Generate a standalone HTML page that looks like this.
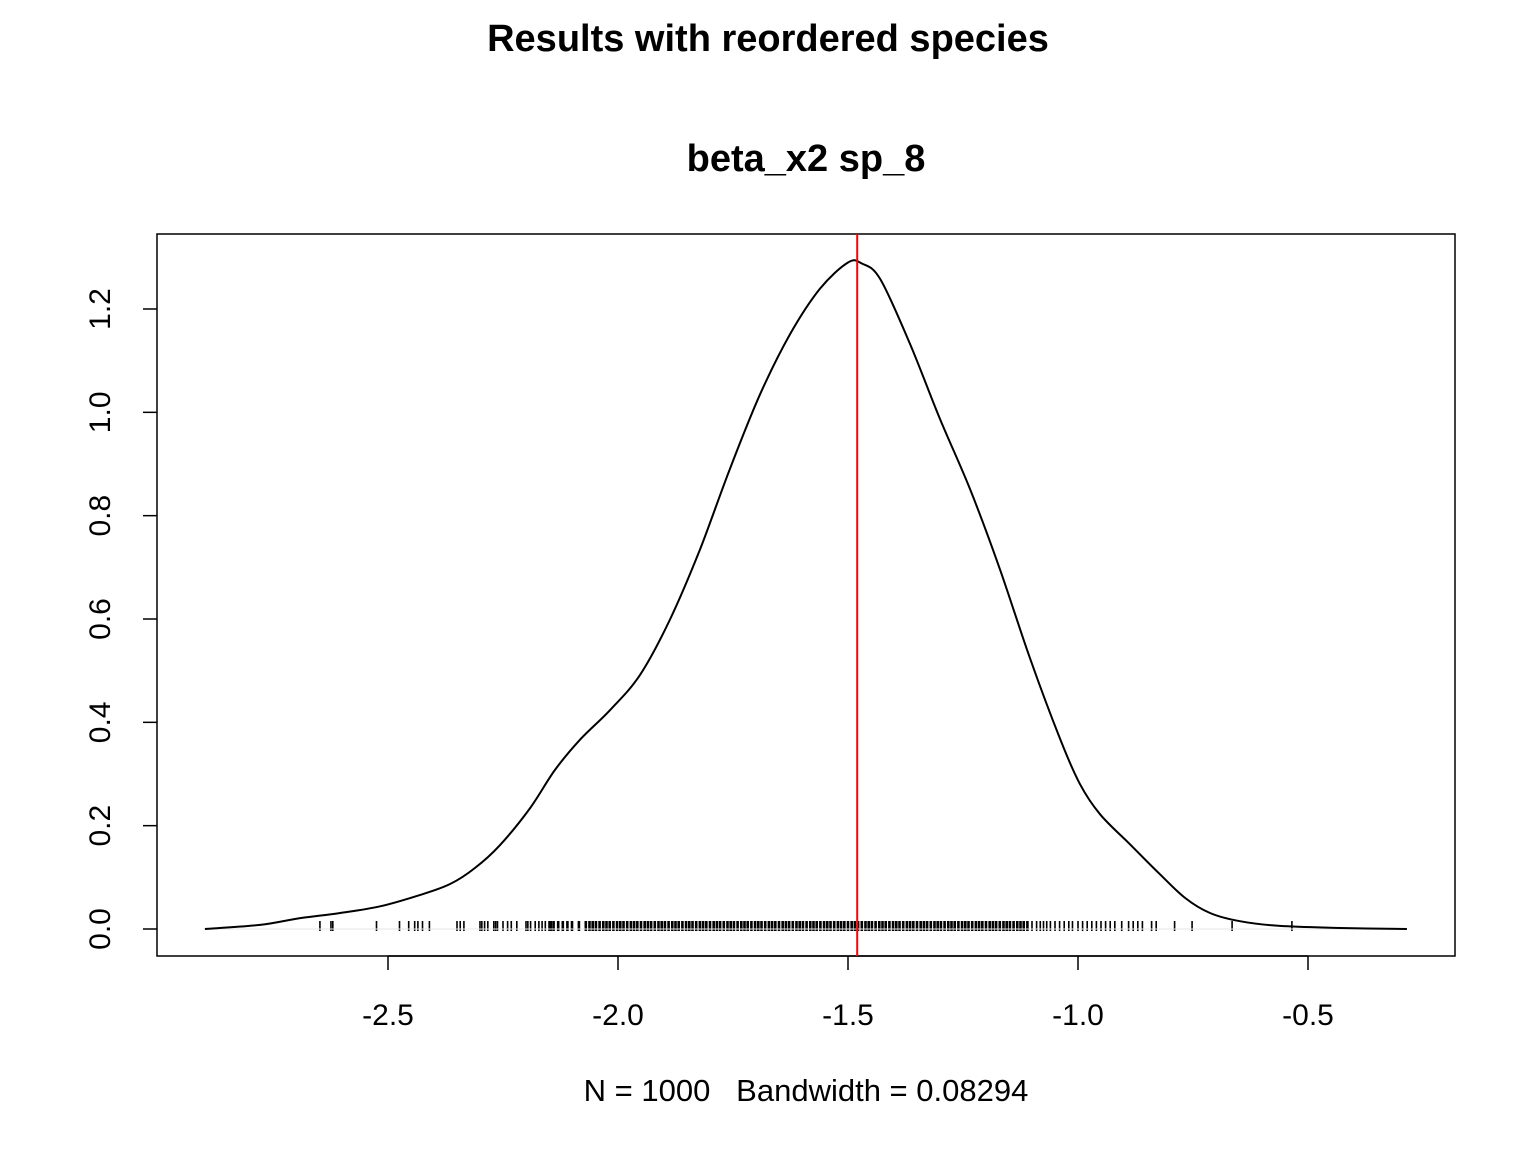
<!DOCTYPE html>
<html><head><meta charset="utf-8"><style>
body{margin:0;background:#fff}
svg text{font-family:"Liberation Sans",Arial,sans-serif}
</style></head><body>
<svg id="chart" width="1536" height="1152" xmlns="http://www.w3.org/2000/svg">
<rect width="1536" height="1152" fill="#fff"/>
<text x="768" y="51" text-anchor="middle" font-size="38" font-weight="bold">Results with reordered species</text>
<text x="806" y="171" text-anchor="middle" font-size="38" font-weight="bold">beta_x2 sp_8</text>
<rect x="157" y="234" width="1298" height="722" fill="none" stroke="#000" stroke-width="1.5"/>
<text x="806" y="1101" text-anchor="middle" font-size="31" xml:space="preserve" style="white-space:pre">N = 1000   Bandwidth = 0.08294</text>
<g id="axes"></g><g id="rug"></g><g id="marks"></g>
</svg>
<script>
const xTicks=[-2.5,-2.0,-1.5,-1.0,-0.5];
const xTickLabels=["-2.5","-2.0","-1.5","-1.0","-0.5"];
const yTicks=[0,0.2,0.4,0.6,0.8,1.0,1.2];
const yTickLabels=["0.0","0.2","0.4","0.6","0.8","1.0","1.2"];
const densX=[-2.898,-2.778,-2.691,-2.604,-2.517,-2.430,-2.365,-2.311,-2.257,-2.191,-2.137,-2.083,-2.017,-1.952,-1.887,-1.822,-1.757,-1.691,-1.626,-1.561,-1.5,-1.470,-1.430,-1.365,-1.300,-1.235,-1.170,-1.104,-1.039,-0.996,-0.952,-0.887,-0.822,-0.767,-0.713,-0.648,-0.561,-0.430,-0.285];
const densY=[0,0.008,0.021,0.031,0.044,0.066,0.087,0.118,0.162,0.234,0.308,0.366,0.424,0.492,0.599,0.734,0.890,1.035,1.151,1.239,1.290,1.288,1.258,1.132,0.987,0.852,0.697,0.523,0.368,0.281,0.222,0.164,0.106,0.060,0.031,0.015,0.006,0.002,0];
const meanValue=[-1.480];
const rugValues=[-2.648,-2.624,-2.620,-2.525,-2.475,-2.455,-2.442,-2.435,-2.425,-2.410,-2.350,-2.343,-2.335,-2.300,-2.296,-2.290,-2.283,-2.270,-2.266,-2.262,-2.250,-2.240,-2.232,-2.220,-2.200,-2.196,-2.190,-2.180,-2.172,-2.165,-2.158,-2.150,-2.146,-2.140,-2.130,-2.120,-2.110,-2.100,-2.085,-2.070,-2.062,-2.055,-2.048,-2.040,-2.032,-2.025,-2.018,-2.010,-2.002,-1.995,-1.988,-1.980,-1.972,-1.965,-1.958,-1.950,-1.942,-1.935,-1.928,-1.920,-1.912,-1.905,-1.898,-1.890,-1.882,-1.875,-1.868,-1.860,-1.852,-1.845,-1.838,-1.830,-1.822,-1.815,-1.808,-1.800,-1.792,-1.785,-1.778,-1.770,-1.762,-1.755,-1.748,-1.740,-1.732,-1.725,-1.718,-1.710,-1.702,-1.695,-1.688,-1.680,-1.672,-1.665,-1.658,-1.650,-1.642,-1.635,-1.628,-1.620,-1.612,-1.605,-1.598,-1.590,-1.582,-1.575,-1.568,-1.560,-1.552,-1.545,-1.538,-1.530,-1.522,-1.515,-1.508,-1.500,-1.492,-1.485,-1.478,-1.470,-1.462,-1.455,-1.448,-1.440,-1.432,-1.425,-1.418,-1.410,-1.402,-1.395,-1.388,-1.380,-1.372,-1.365,-1.358,-1.350,-1.342,-1.335,-1.328,-1.320,-1.312,-1.305,-1.298,-1.290,-1.282,-1.275,-1.268,-1.260,-1.252,-1.245,-1.238,-1.230,-1.222,-1.215,-1.208,-1.200,-1.192,-1.185,-1.178,-1.170,-1.162,-1.155,-1.148,-1.140,-1.132,-1.125,-1.118,-1.110,-1.100,-1.090,-1.082,-1.075,-1.068,-1.060,-1.050,-1.040,-1.030,-1.020,-1.012,-1.000,-0.990,-0.980,-0.970,-0.960,-0.950,-0.940,-0.930,-0.920,-0.905,-0.890,-0.880,-0.870,-0.860,-0.840,-0.830,-0.790,-0.752,-0.665,-0.535];
const NS="http://www.w3.org/2000/svg";
const xs=v=>848+(v+1.5)*460;
const ys=v=>929-v*516.67;
function mk(tag,attrs,parent){const e=document.createElementNS(NS,tag);for(const k in attrs)e.setAttribute(k,attrs[k]);document.getElementById(parent).appendChild(e);return e;}
xTicks.forEach((v,i)=>{
 const t=mk('line',{x1:xs(v),x2:xs(v),y1:956,y2:970,stroke:'#000','stroke-width':1.5},'axes');
 
 
 const l=mk('text',{x:xs(v),y:1025,'text-anchor':'middle','font-size':30},'axes');
 l.textContent=xTickLabels[i];
 
 
});
const xa=mk('line',{x1:xs(xTicks[0]),x2:xs(xTicks[xTicks.length-1]),y1:956,y2:956,stroke:'#000','stroke-width':1.5},'axes');


yTicks.forEach((v,i)=>{
 const t=mk('line',{x1:143,x2:157,y1:ys(v),y2:ys(v),stroke:'#000','stroke-width':1.5},'axes');
 
 
 const l=mk('text',{x:0,y:0,'text-anchor':'middle','font-size':30,transform:`translate(110,${ys(v)}) rotate(-90)`},'axes');
 l.textContent=yTickLabels[i];
 
 
});
const base=mk('line',{x1:xs(densX[0]),x2:xs(densX[densX.length-1]),y1:ys(0),y2:ys(0),stroke:'#e6e6e6','stroke-width':1},'marks');


rugValues.forEach(v=>{
 const w=(v>-2.15&&v<-1.1)?2.6:1.6;
 const r=mk('line',{x1:xs(v),x2:xs(v),y1:921,y2:931,stroke:'#000','stroke-width':w},'rug');
 
 
});
const P=densX.map((v,i)=>[xs(v),ys(densY[i])]);
let d='M'+P[0][0].toFixed(1)+','+P[0][1].toFixed(1);
for(let i=0;i<P.length-1;i++){
 const p0=P[Math.max(0,i-1)],p1=P[i],p2=P[i+1],p3=P[Math.min(P.length-1,i+2)];
 const c1=[p1[0]+(p2[0]-p0[0])/6,p1[1]+(p2[1]-p0[1])/6];
 const c2=[p2[0]-(p3[0]-p1[0])/6,p2[1]-(p3[1]-p1[1])/6];
 d+='C'+c1[0].toFixed(1)+','+c1[1].toFixed(1)+' '+c2[0].toFixed(1)+','+c2[1].toFixed(1)+' '+p2[0].toFixed(1)+','+p2[1].toFixed(1);
}
const p=mk('path',{d:d,fill:'none',stroke:'#000','stroke-width':2,'stroke-linejoin':'round'},'marks');


const m=mk('line',{x1:xs(meanValue[0]),x2:xs(meanValue[0]),y1:234,y2:956,stroke:'#f00','stroke-width':2},'marks');


</script>
</body></html>
